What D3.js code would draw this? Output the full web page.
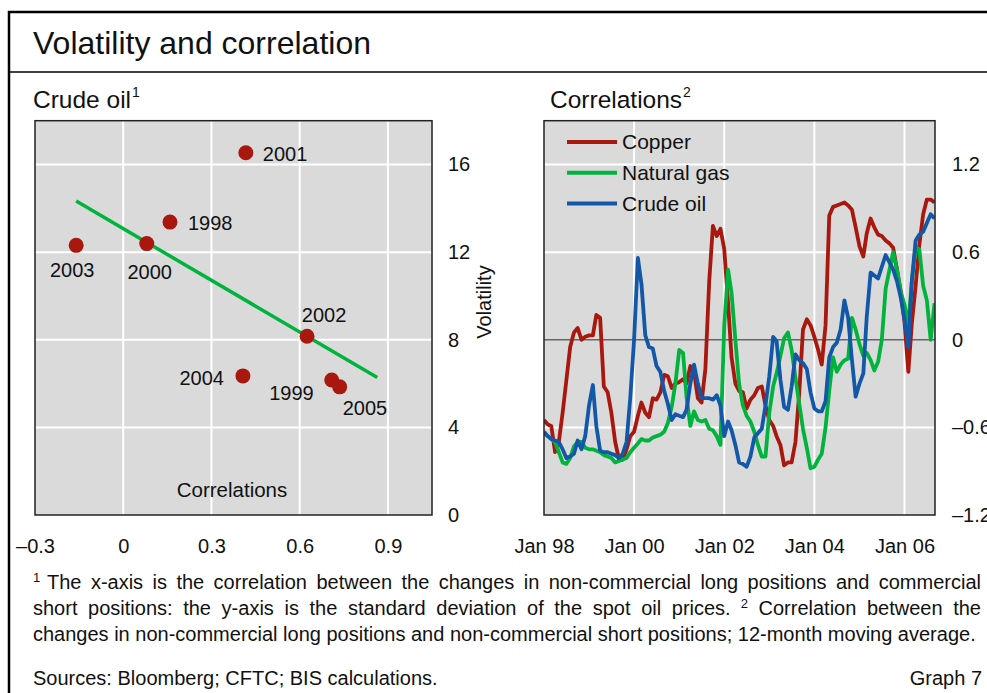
<!DOCTYPE html>
<html>
<head>
<meta charset="utf-8">
<script src="https://cdn.jsdelivr.net/npm/d3@7"></script>
<style>
body { margin: 0; background: #fff; }
svg { display: block; font-family: "Liberation Sans", Arial, sans-serif; }
</style>
</head>
<body>
<svg id="chart" width="987" height="693"></svg>
<script>
// left panel: crude oil, correlation vs volatility
var scatter_years = ['2001', '1998', '2003', '2000', '2002', '2004', '1999', '2005'];
var scatter_corr = [0.417, 0.159, -0.16, 0.08, 0.625, 0.407, 0.709, 0.736];
var scatter_vol = [16.54, 13.37, 12.31, 12.39, 8.16, 6.35, 6.16, 5.85];
var trend_corr = [-0.16, 0.864];
var trend_vol = [14.33, 6.28];
var left_x_ticks = [-0.3, 0, 0.3, 0.6, 0.9];
var left_y_ticks = [0, 4, 8, 12, 16];

// right panel: monthly correlations, Jan 1998 - Sep 2006
var first_month = new Date(1998, 0, 1);
var copper = [-0.55, -0.58, -0.59, -0.77, -0.70, -0.50, -0.28, -0.05, 0.05, 0.08,
  0.00, 0.02, 0.03, 0.03, 0.17, 0.15, -0.32, -0.36, -0.50, -0.70,
  -0.82, -0.82, -0.75, -0.66, -0.63, -0.52, -0.43, -0.50, -0.53, -0.40,
  -0.41, -0.36, -0.24, -0.25, -0.33, -0.30, -0.29, -0.27, -0.30, -0.18,
  -0.22, -0.40, -0.43, -0.20, 0.40, 0.78, 0.71, 0.76, 0.62, 0.25,
  -0.12, -0.30, -0.35, -0.36, -0.47, -0.41, -0.38, -0.33, -0.32, -0.45,
  -0.55, -0.59, -0.66, -0.72, -0.86, -0.84, -0.84, -0.70, -0.36, 0.07,
  0.14, 0.10, 0.02, -0.07, -0.17, 0.10, 0.85, 0.91, 0.92, 0.93,
  0.94, 0.92, 0.89, 0.77, 0.64, 0.57, 0.73, 0.83, 0.77, 0.72,
  0.71, 0.68, 0.66, 0.63, 0.48, 0.33, 0.12, -0.22, 0.11, 0.37,
  0.65, 0.86, 0.96, 0.96, 0.94];
var natural_gas = [-0.64, -0.66, -0.68, -0.70, -0.77, -0.84, -0.85, -0.81, -0.73, -0.70,
  -0.70, -0.74, -0.75, -0.75, -0.76, -0.77, -0.79, -0.80, -0.81, -0.84,
  -0.83, -0.82, -0.81, -0.77, -0.74, -0.71, -0.68, -0.69, -0.69, -0.67,
  -0.66, -0.65, -0.63, -0.57, -0.46, -0.30, -0.07, -0.09, -0.39, -0.59,
  -0.49, -0.55, -0.56, -0.55, -0.61, -0.62, -0.66, -0.72, 0.10, 0.48,
  0.32, 0.00, -0.30, -0.45, -0.52, -0.56, -0.63, -0.72, -0.80, -0.80,
  -0.50, -0.32, -0.23, -0.11, 0.01, 0.05, -0.07, -0.26, -0.44, -0.61,
  -0.74, -0.88, -0.87, -0.82, -0.78, -0.60, -0.35, -0.12, -0.22, -0.17,
  -0.14, -0.13, 0.15, 0.07, -0.03, -0.11, -0.09, -0.14, -0.21, -0.15,
  0.00, 0.35, 0.48, 0.60, 0.48, 0.33, 0.24, 0.10, 0.40, 0.63,
  0.62, 0.37, 0.27, 0.00, 0.25];
var crude_oil = [-0.63, -0.66, -0.68, -0.69, -0.70, -0.75, -0.81, -0.80, -0.78, -0.69,
  -0.75, -0.66, -0.45, -0.31, -0.59, -0.76, -0.77, -0.77, -0.78, -0.79,
  -0.81, -0.78, -0.70, -0.40, 0.00, 0.56, 0.38, 0.03, -0.05, -0.06,
  -0.18, -0.22, -0.35, -0.44, -0.55, -0.51, -0.52, -0.53, -0.48, -0.30,
  -0.17, -0.30, -0.40, -0.40, -0.40, -0.41, -0.38, -0.45, -0.66, -0.56,
  -0.62, -0.72, -0.84, -0.85, -0.87, -0.80, -0.67, -0.64, -0.61, -0.45,
  -0.25, 0.02, -0.01, -0.27, -0.46, -0.48, -0.32, -0.10, -0.14, -0.16,
  -0.20, -0.36, -0.47, -0.49, -0.49, -0.42, -0.12, -0.05, -0.02, 0.07,
  0.27, 0.15, -0.14, -0.39, -0.30, -0.23, 0.16, 0.46, 0.44, 0.42,
  0.50, 0.58, 0.53, 0.48, 0.40, 0.29, 0.14, -0.05, 0.40, 0.68,
  0.72, 0.74, 0.80, 0.86, 0.83];
var series_names = ['Copper', 'Natural gas', 'Crude oil'];
var series_values = [copper, natural_gas, crude_oil];
var series_colors = ['#a8180f', '#00b33c', '#1257a8'];
var right_x_ticks = [new Date(1998, 0, 1), new Date(2000, 0, 1), new Date(2002, 0, 1), new Date(2004, 0, 1), new Date(2006, 0, 1)];
var right_y_ticks = [-1.2, -0.6, 0, 0.6, 1.2];

var footnote_1 = 'The x-axis is the correlation between the changes in non-commercial long positions and commercial';
var footnote_2a = 'short positions: the y-axis is the standard deviation of the spot oil prices.';
var footnote_2b = ' Correlation between the';
var footnote_3 = 'changes in non-commercial long positions and non-commercial short positions; 12-month moving average.';

// label offsets from each dot: dx, dy, anchor
var label_place = {
  '2001': [17, 8, 'start'], '1998': [18, 8, 'start'], '2003': [-4, 32, 'middle'],
  '2000': [3, 35, 'middle'], '2002': [17, -14, 'middle'], '2004': [-19, 9, 'end'],
  '1999': [-18, 20, 'end'], '2005': [3, 28, 'start']
};

var plot_bg = '#dadada';
var svg = d3.select('#chart');

function dash_num(d) {
  return d < 0 ? '\u2013' + Math.abs(d) : String(d);
}

// frame and title
svg.append('rect').attr('x', 9).attr('y', 12).attr('width', 1000).attr('height', 700)
  .attr('fill', 'none').attr('stroke', '#000').attr('stroke-width', 2.5);
svg.append('line').attr('x1', 9).attr('x2', 987).attr('y1', 72).attr('y2', 72)
  .attr('stroke', '#000').attr('stroke-width', 1.5);
svg.append('text').attr('x', 33).attr('y', 54).attr('font-size', 32).attr('fill', '#111')
  .text('Volatility and correlation');

function panel_title(x, label, sup) {
  var t = svg.append('text').attr('x', x).attr('y', 108).attr('font-size', 24.5).attr('fill', '#111');
  t.append('tspan').text(label);
  t.append('tspan').attr('dx', 1).attr('dy', -11).attr('font-size', 14).text(sup);
}
panel_title(33, 'Crude oil', '1');
panel_title(550, 'Correlations', '2');

// ---- left panel
var lx = d3.scaleLinear().domain([-0.3, 1.05]).range([35, 432]);
var ly = d3.scaleLinear().domain([0, 18]).range([515, 120.7]);

svg.append('rect').attr('x', lx(-0.3)).attr('y', ly(18))
  .attr('width', lx(1.05) - lx(-0.3)).attr('height', ly(0) - ly(18)).attr('fill', plot_bg);

var lgrid = svg.append('g').attr('stroke', '#fff').attr('stroke-width', 2);
lgrid.selectAll('.vx').data(left_x_ticks.slice(1)).enter().append('line')
  .attr('x1', d => lx(d)).attr('x2', d => lx(d)).attr('y1', ly(18)).attr('y2', ly(0));
lgrid.selectAll('.hy').data(left_y_ticks.slice(1)).enter().append('line')
  .attr('y1', d => ly(d)).attr('y2', d => ly(d)).attr('x1', lx(-0.3)).attr('x2', lx(1.05));

svg.append('text').attr('x', 232).attr('y', 497).attr('text-anchor', 'middle')
  .attr('font-size', 20.5).attr('fill', '#111').text('Correlations');

svg.append('line')
  .attr('x1', lx(trend_corr[0])).attr('y1', ly(trend_vol[0]))
  .attr('x2', lx(trend_corr[1])).attr('y2', ly(trend_vol[1]))
  .attr('stroke', '#00b33c').attr('stroke-width', 3.5);

svg.selectAll('.dot').data(scatter_years).enter().append('circle')
  .attr('cx', (d, i) => lx(scatter_corr[i])).attr('cy', (d, i) => ly(scatter_vol[i]))
  .attr('r', 7.5).attr('fill', '#a8180f');

svg.selectAll('.yr').data(scatter_years).enter().append('text')
  .attr('x', (d, i) => lx(scatter_corr[i]) + label_place[d][0])
  .attr('y', (d, i) => ly(scatter_vol[i]) + label_place[d][1])
  .attr('text-anchor', d => label_place[d][2])
  .attr('font-size', 20).attr('fill', '#111').text(d => d);

svg.append('rect').attr('x', lx(-0.3)).attr('y', ly(18))
  .attr('width', lx(1.05) - lx(-0.3)).attr('height', ly(0) - ly(18))
  .attr('fill', 'none').attr('stroke', '#222').attr('stroke-width', 1.5);

var lxaxis = svg.append('g').attr('transform', 'translate(0,' + ly(0) + ')')
  .call(d3.axisBottom(lx).tickValues(left_x_ticks).tickSize(0).tickPadding(24).tickFormat(dash_num));
var lyaxis = svg.append('g').attr('transform', 'translate(' + lx(1.05) + ',0)')
  .call(d3.axisRight(ly).tickValues(left_y_ticks).tickSize(0).tickPadding(16));

svg.append('text').attr('transform', 'translate(491,302) rotate(-90)')
  .attr('text-anchor', 'middle').attr('font-size', 20).attr('fill', '#111').text('Volatility');

// ---- right panel
var months = copper.map((d, i) => d3.timeMonth.offset(first_month, i));
var rx = d3.scaleTime().domain([first_month, new Date(2006, 8, 5)]).range([544, 935]);
var ry = d3.scaleLinear().domain([-1.2, 1.5]).range([515, 120.7]);

svg.append('clipPath').attr('id', 'rclip').append('rect')
  .attr('x', rx.range()[0]).attr('y', ry(1.5))
  .attr('width', rx.range()[1] - rx.range()[0]).attr('height', ry(-1.2) - ry(1.5));

svg.append('rect').attr('x', rx.range()[0]).attr('y', ry(1.5))
  .attr('width', rx.range()[1] - rx.range()[0]).attr('height', ry(-1.2) - ry(1.5)).attr('fill', plot_bg);

var rgrid = svg.append('g').attr('stroke', '#fff').attr('stroke-width', 2);
rgrid.selectAll('.vx').data(right_x_ticks.slice(1)).enter().append('line')
  .attr('x1', d => rx(d)).attr('x2', d => rx(d)).attr('y1', ry(1.5)).attr('y2', ry(-1.2));
rgrid.selectAll('.hy').data(right_y_ticks.filter(d => d !== 0 && d !== -1.2)).enter().append('line')
  .attr('y1', d => ry(d)).attr('y2', d => ry(d)).attr('x1', rx.range()[0]).attr('x2', rx.range()[1]);

svg.append('line').attr('x1', rx.range()[0]).attr('x2', rx.range()[1])
  .attr('y1', ry(0)).attr('y2', ry(0)).attr('stroke', '#666').attr('stroke-width', 1.5);

var line = d3.line().x((d, i) => rx(months[i])).y(d => ry(d));
svg.append('g').attr('clip-path', 'url(#rclip)')
  .selectAll('path').data(series_values).enter().append('path')
  .attr('d', line).attr('fill', 'none')
  .attr('stroke', (d, i) => series_colors[i]).attr('stroke-width', 3.8)
  .attr('stroke-linejoin', 'round');

var legend = svg.append('g').selectAll('g').data(series_names).enter().append('g')
  .attr('transform', (d, i) => 'translate(567,' + (142 + i * 30.7) + ')');
legend.append('line').attr('x1', 0).attr('x2', 50)
  .attr('stroke', (d, i) => series_colors[i]).attr('stroke-width', 4);
legend.append('text').attr('x', 55).attr('dy', '0.35em').attr('font-size', 21).attr('fill', '#111')
  .text(d => d);

svg.append('rect').attr('x', rx.range()[0]).attr('y', ry(1.5))
  .attr('width', rx.range()[1] - rx.range()[0]).attr('height', ry(-1.2) - ry(1.5))
  .attr('fill', 'none').attr('stroke', '#222').attr('stroke-width', 1.5);

var rxaxis = svg.append('g').attr('transform', 'translate(0,' + ry(-1.2) + ')')
  .call(d3.axisBottom(rx).tickValues(right_x_ticks).tickSize(0).tickPadding(24).tickFormat(d3.timeFormat('Jan %y')));
var ryaxis = svg.append('g').attr('transform', 'translate(' + rx.range()[1] + ',0)')
  .call(d3.axisRight(ry).tickValues(right_y_ticks).tickSize(0).tickPadding(17).tickFormat(dash_num));

[lxaxis, lyaxis, rxaxis, ryaxis].forEach(function (g) {
  g.select('.domain').remove();
  g.attr('font-size', 20).attr('font-family', null);
  g.selectAll('text').attr('fill', '#111');
});

// ---- footnotes
function justify(sel, width) {
  var natural = sel.node().getComputedTextLength();
  var gaps = (sel.text().match(/ /g) || []).length;
  sel.attr('word-spacing', (width - natural) / gaps);
}
var fn = svg.append('g').attr('font-size', 20).attr('fill', '#111');
fn.append('text').attr('x', 33).attr('y', 582).attr('font-size', 13).text('1');
var f1 = fn.append('text').attr('x', 47).attr('y', 589).text(footnote_1);
justify(f1, 981 - 47);
var f2 = fn.append('text').attr('x', 33).attr('y', 615);
f2.append('tspan').text(footnote_2a);
f2.append('tspan').attr('dx', 10).attr('dy', -7).attr('font-size', 13).text('2');
f2.append('tspan').attr('dy', 7).text(footnote_2b);
justify(f2, 981 - 33 - 10);
fn.append('text').attr('x', 33).attr('y', 641).text(footnote_3);
fn.append('text').attr('x', 33).attr('y', 685).text('Sources: Bloomberg; CFTC; BIS calculations.');
fn.append('text').attr('x', 982).attr('y', 685).attr('text-anchor', 'end').text('Graph 7');
</script>
</body>
</html>
